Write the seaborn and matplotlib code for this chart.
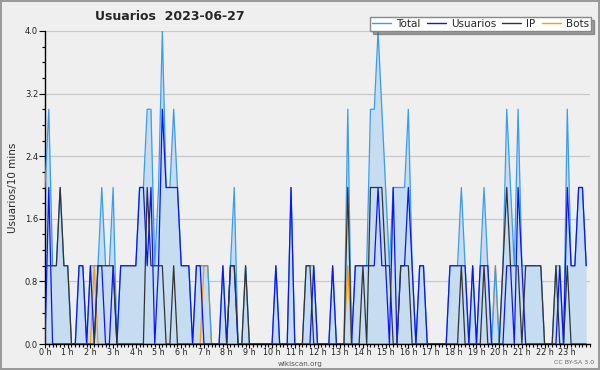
import matplotlib
matplotlib.use('Agg')
import matplotlib.pyplot as plt
from matplotlib.ticker import MultipleLocator, FormatStrFormatter
from matplotlib.lines import Line2D
import numpy as np
import seaborn as sns

# 10 minute slots over the day, 144 of them
slots = np.arange(144)
hours = slots / 6

total = [2, 3, 1, 1, 2, 1, 1, 0, 0, 1, 1, 0,
         1, 1, 1, 2, 1, 1, 2, 0, 1, 1, 1, 1,
         1, 2, 2, 3, 3, 1, 2, 4, 2, 2, 3, 2,
         1, 1, 1, 0, 1, 1, 1, 1, 0, 0, 0, 1,
         0, 1, 2, 0, 0, 1, 0, 0, 0, 0, 0, 0,
         0, 1, 0, 0, 0, 2, 0, 0, 0, 1, 1, 1,
         0, 0, 0, 0, 1, 0, 0, 0, 3, 0, 1, 1,
         1, 1, 3, 3, 4, 3, 2, 1, 2, 2, 2, 2,
         3, 1, 0, 1, 1, 0, 0, 0, 0, 0, 0, 1,
         1, 1, 2, 1, 0, 1, 0, 1, 2, 1, 0, 1,
         0, 1, 3, 2, 1, 3, 1, 1, 1, 1, 1, 1,
         0, 0, 0, 1, 1, 0, 3, 1, 1, 2, 2, 1]

usuarios = [0, 2, 0, 0, 0, 0, 0, 0, 0, 1, 1, 0,
            1, 0, 1, 1, 0, 0, 1, 0, 1, 1, 1, 1,
            1, 2, 2, 1, 2, 0, 1, 3, 2, 2, 2, 2,
            1, 1, 1, 0, 1, 1, 0, 0, 0, 0, 0, 1,
            0, 1, 1, 0, 0, 0, 0, 0, 0, 0, 0, 0,
            0, 1, 0, 0, 0, 2, 0, 0, 0, 0, 0, 1,
            0, 0, 0, 0, 1, 0, 0, 0, 0, 0, 1, 1,
            1, 1, 1, 1, 2, 1, 1, 0, 2, 0, 1, 1,
            2, 1, 0, 1, 1, 0, 0, 0, 0, 0, 0, 1,
            1, 1, 1, 1, 0, 1, 0, 1, 1, 1, 0, 0,
            0, 0, 1, 1, 0, 2, 1, 0, 0, 0, 0, 0,
            0, 0, 0, 0, 1, 0, 2, 1, 1, 2, 2, 1]

ip = [1, 1, 1, 1, 2, 1, 1, 0, 0, 0, 0, 0,
      0, 0, 1, 1, 1, 1, 1, 0, 0, 0, 0, 0,
      0, 0, 0, 2, 1, 1, 1, 1, 0, 0, 1, 0,
      0, 0, 0, 0, 0, 0, 0, 0, 0, 0, 0, 0,
      0, 1, 1, 0, 0, 1, 0, 0, 0, 0, 0, 0,
      0, 0, 0, 0, 0, 0, 0, 0, 0, 1, 1, 0,
      0, 0, 0, 0, 0, 0, 0, 0, 2, 0, 0, 0,
      1, 0, 2, 2, 2, 2, 1, 1, 0, 0, 1, 1,
      1, 0, 0, 0, 0, 0, 0, 0, 0, 0, 0, 0,
      0, 0, 1, 0, 0, 0, 0, 0, 1, 0, 0, 0,
      0, 1, 2, 1, 1, 1, 0, 1, 1, 1, 1, 1,
      0, 0, 0, 1, 0, 0, 1, 0, 0, 0, 0, 0]

bots = [0] * 144
for i in (13, 42, 43, 80, 119):
    bots[i] = 1

hour_labels = [f'{h} h' for h in range(24)]

bg = '#efeff0'
c_total = '#3a9cf0'
c_fill = '#c6dcf0'
c_users = '#0a14ff'
c_ip = '#333333'
c_bots = '#ff9a00'

sns.set_style('ticks')
plt.rcParams['font.family'] = ['DejaVu Sans']

fig = plt.figure(figsize=(6, 3.7), dpi=100, facecolor=bg,
                 edgecolor='#9a9a9a', linewidth=1.5)
ax = fig.add_axes([45 / 600, 26 / 370, 545 / 600, 313 / 370])
ax.set_facecolor(bg)

ax.fill_between(hours, total, 0, color=c_fill, lw=0, zorder=1)
sns.lineplot(x=hours, y=total, color=c_total, lw=0.9, ax=ax, zorder=3)
sns.lineplot(x=hours, y=usuarios, color=c_users, lw=0.9, ax=ax, zorder=4)
sns.lineplot(x=hours, y=ip, color=c_ip, lw=0.9, ax=ax, zorder=5)
sns.lineplot(x=hours, y=bots, color=c_bots, lw=0.9, ax=ax, zorder=2)

ax.set_xlim(0, 24)
ax.set_ylim(0, 4.0)
ax.set_xticks(range(24))
ax.set_xticklabels(hour_labels, fontsize=5.8, color='#222')
ax.xaxis.set_minor_locator(MultipleLocator(1 / 6))
ax.yaxis.set_major_locator(MultipleLocator(0.8))
ax.yaxis.set_minor_locator(MultipleLocator(0.2))
ax.yaxis.set_major_formatter(FormatStrFormatter('%.1f'))
ax.tick_params(axis='y', labelsize=6, labelcolor='#222')
ax.tick_params(axis='y', which='major', length=4, width=0.8, color='black', pad=1)
ax.tick_params(axis='y', which='minor', length=2.5, width=0.8, color='black')
ax.tick_params(axis='x', which='major', length=3, width=0.8, color='black', pad=0)
ax.tick_params(axis='x', which='minor', length=2.5, width=0.8, color='black')
ax.grid(axis='y', color='#c8c8c8', lw=0.9, zorder=0)
ax.set_axisbelow(True)
for s in ('top', 'right'):
    ax.spines[s].set_visible(False)
for s in ('left', 'bottom'):
    ax.spines[s].set_color('black')
    ax.spines[s].set_linewidth(1)
ax.set_xlabel('')
ax.set_ylabel('Usuarios/10 mins', fontsize=7.5, labelpad=5)

handles = [Line2D([], [], color=c, lw=1) for c in (c_total, c_users, c_ip, c_bots)]
leg = ax.legend(handles, ['Total', 'Usuarios', 'IP', 'Bots'], ncol=4,
                loc='upper right', bbox_to_anchor=(591 / 600, 1 - 17 / 370),
                bbox_transform=fig.transFigure, fontsize=7.5, frameon=True,
                fancybox=False, shadow=True, handlelength=1.8,
                handletextpad=0.5, columnspacing=0.6, borderpad=0.2,
                borderaxespad=0)
leg.get_frame().set_facecolor('white')
leg.get_frame().set_edgecolor('#888888')
leg.get_frame().set_alpha(1)
leg.set_zorder(10)

fig.text(95 / 600, 1 - 17 / 370, 'Usuarios  2023-06-27', fontsize=9,
         fontweight='bold', va='center', ha='left')
fig.text(0.5, 1 - 364 / 370, 'wikiscan.org', fontsize=5.2, color='#555',
         ha='center', va='center')
fig.text(594 / 600, 1 - 363 / 370, 'CC BY-SA 3.0', fontsize=4.5,
         color='#666', ha='right', va='center')

fig.savefig('out.png', dpi=100, facecolor=fig.get_facecolor(),
            edgecolor=fig.get_edgecolor())
